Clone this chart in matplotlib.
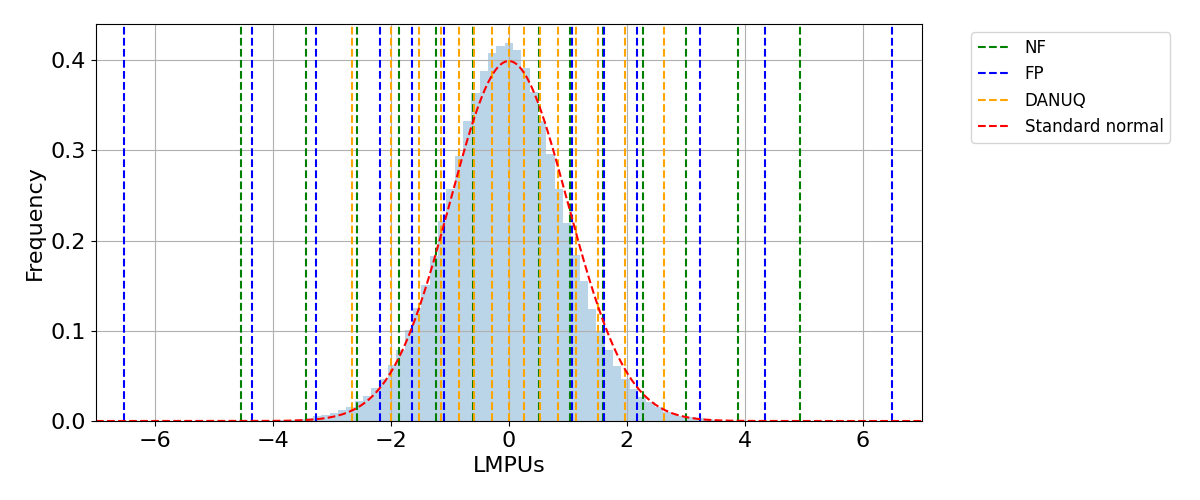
import numpy as np
import matplotlib
matplotlib.use('Agg')
import matplotlib.pyplot as plt

# histogram (density per bin, bins centred on k * bin_width)
bin_width = 0.1412
bin_index = list(range(-27, 26))
bin_height = [
    0.001, 0.0015, 0.0025, 0.0037, 0.0055, 0.0065, 0.0085, 0.0125, 0.0155, 0.022,
    0.028, 0.037, 0.046, 0.062, 0.079, 0.101, 0.125, 0.151, 0.183, 0.222,
    0.257, 0.294, 0.333, 0.363, 0.388, 0.408, 0.4155, 0.419, 0.411, 0.3915,
    0.365, 0.332, 0.296, 0.257, 0.220, 0.184, 0.1555, 0.124, 0.099, 0.0787,
    0.0613, 0.0465, 0.035, 0.027, 0.0214, 0.015, 0.0105, 0.0074, 0.0055, 0.004,
    0.003, 0.002, 0.0012,
]

# LMPU positions of the vertical lines for each method
nf_lmpus = [-4.54, -3.44, -2.58, -1.86, -1.24, -0.61, 0.51, 1.03, 1.59, 2.27, 3.00, 3.88, 4.93]
fp_lmpus = [-6.53, -4.36, -3.27, -2.19, -1.64, -1.10, 1.08, 1.62, 2.17, 3.25, 4.34, 6.50]
danuq_lmpus = [-2.66, -1.99, -1.52, -1.15, -0.85, -0.59, -0.28, 0.0, 0.25, 0.53,
               0.83, 1.14, 1.51, 1.97, 2.64]

fig = plt.figure(figsize=(12, 5), dpi=100)
ax = fig.add_axes([0.08, 0.158, 0.688, 0.794])

centers = np.array(bin_index) * bin_width
edges = np.append(centers - bin_width / 2, centers[-1] + bin_width / 2)
ax.hist(centers, bins=edges, weights=bin_height, alpha=0.3, color='C0')

for i, x in enumerate(nf_lmpus):
    ax.axvline(x, color='green', linestyle='--', linewidth=1.5, label='NF' if i == 0 else None)
for i, x in enumerate(fp_lmpus):
    ax.axvline(x, color='blue', linestyle='--', linewidth=1.5, label='FP' if i == 0 else None)
for i, x in enumerate(danuq_lmpus):
    ax.axvline(x, color='orange', linestyle='--', linewidth=1.5, label='DANUQ' if i == 0 else None)

# standard normal pdf
xs = np.linspace(-7, 7, 500)
ax.plot(xs, np.exp(-xs**2 / 2) / np.sqrt(2 * np.pi), 'r--', linewidth=1.5, label='Standard normal')

ax.set_xlim(-7, 7)
ax.set_ylim(0, 0.44)
ax.set_xticks([-6, -4, -2, 0, 2, 4, 6])
ax.set_yticks([0.0, 0.1, 0.2, 0.3, 0.4])
ax.tick_params(labelsize=16)
ax.set_xlabel('LMPUs', fontsize=16)
ax.set_ylabel('Frequency', fontsize=16)
ax.grid(True)
ax.legend(loc='upper left', bbox_to_anchor=(1.05, 1), fontsize=12)

fig.savefig('out.png')
